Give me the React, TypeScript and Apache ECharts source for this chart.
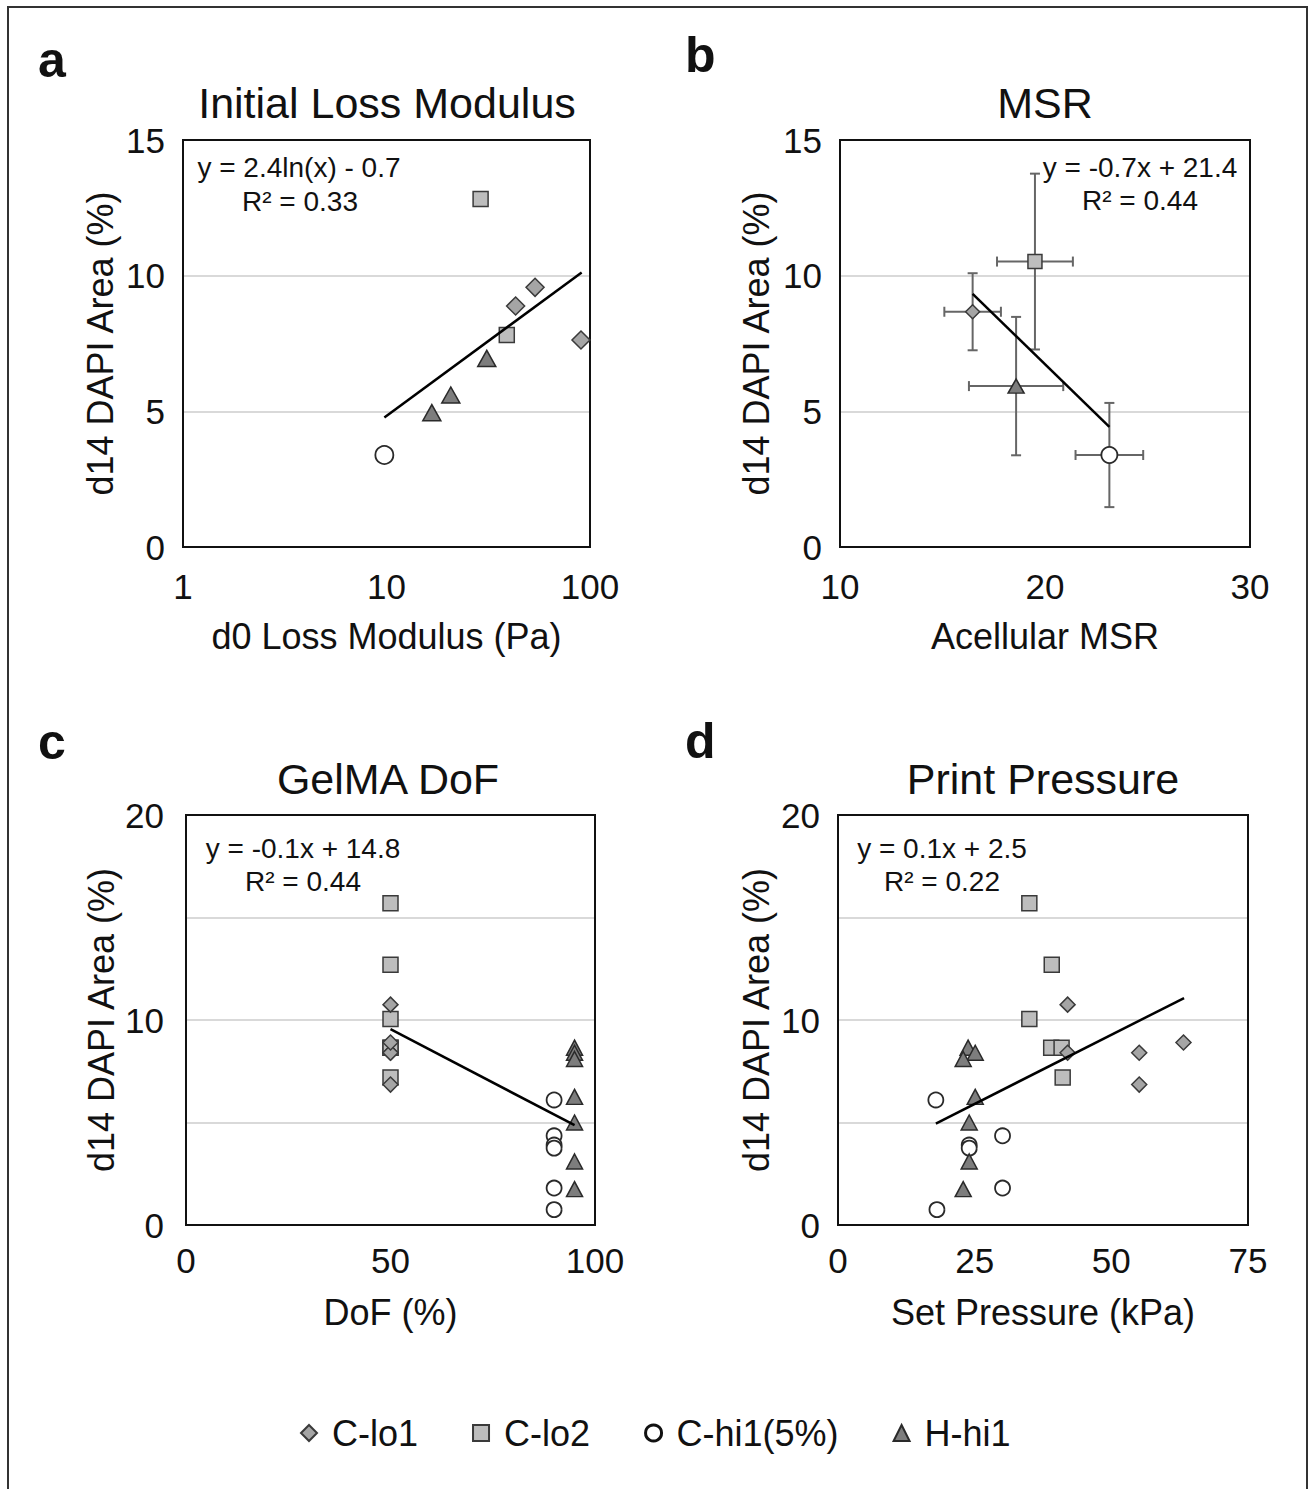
import React, { useEffect, useRef } from "react";
import * as echarts from "echarts";

const FONT = "'Liberation Sans', Arial, Helvetica, sans-serif";

const legendNames = ["C-lo1", "C-lo2", "C-hi1(5%)", "H-hi1"];

// ---------- Panel a: Initial Loss Modulus (log x) ----------
const aLo1Modulus = [53.7, 43.1, 90.3];
const aLo1Area = [9.57, 8.88, 7.63];
const aLo2Modulus = [29.0, 39.0];
const aLo2Area = [12.83, 7.81];
const aHi1Modulus = [9.76];
const aHi1Area = [3.39];
const aHHi1Modulus = [31.1, 20.7, 16.7];
const aHHi1Area = [6.95, 5.6, 4.95];
const aTrendX = [9.76, 91];
const aTrendY = [4.77, 10.12];

// ---------- Panel b: MSR (means with error bars) ----------
const bLo1 = [16.47, 8.67];
const bLo2 = [19.51, 10.52];
const bHi1 = [23.14, 3.39];
const bHHi1 = [18.59, 5.93];
const bMsr = [16.47, 19.51, 23.14, 18.59];
const bArea = [8.67, 10.52, 3.39, 5.93];
const bMsrErr = [1.38, 1.85, 1.65, 2.3];
const bAreaErr = [1.42, 3.24, 1.92, 2.55];
const bTrendX = [16.47, 23.14];
const bTrendY = [9.33, 4.43];

// ---------- Panels c & d: shared d14 DAPI area per sample ----------
const lo1Area = [10.75, 8.4, 8.4, 6.85, 8.9];
const lo2Area = [15.7, 12.7, 10.05, 8.65, 8.65, 7.2];
const hi1Area = [6.1, 4.35, 3.9, 3.75, 1.8, 0.75];
const hHi1Area = [8.65, 8.4, 8.1, 6.25, 5.0, 3.1, 1.75];

// Panel c: GelMA DoF (%)
const lo1Dof = [50, 50, 50, 50, 50];
const lo2Dof = [50, 50, 50, 50, 50, 50];
const hi1Dof = [90, 90, 90, 90, 90, 90];
const hHi1Dof = [95, 95, 95, 95, 95, 95, 95];
const cTrendX = [50, 95];
const cTrendY = [9.55, 4.87];

// Panel d: Set pressure (kPa)
const lo1Pressure = [42.0, 42.0, 55.1, 55.1, 63.2];
const lo2Pressure = [35.0, 39.1, 35.0, 39.0, 40.9, 41.1];
const hi1Pressure = [17.9, 30.1, 24.0, 24.0, 30.1, 18.1];
const hHi1Pressure = [23.8, 25.1, 22.9, 25.1, 24.0, 24.0, 22.9];
const dTrendX = [17.9, 63.3];
const dTrendY = [4.95, 11.07];

type Sty = { symbol: string; color: string; border: string; bw: number };
const STY: Record<string, Sty> = {
  "C-lo1": { symbol: "diamond", color: "#a5a5a5", border: "#3a3a3a", bw: 1.5 },
  "C-lo2": { symbol: "rect", color: "#bdbdbd", border: "#3a3a3a", bw: 1.5 },
  "C-hi1(5%)": { symbol: "circle", color: "#ffffff", border: "#2a2a2a", bw: 1.8 },
  "H-hi1": { symbol: "triangle", color: "#7d7d7d", border: "#2a2a2a", bw: 1.5 },
};

function scatter(name: string, gi: number, xs: number[], ys: number[], size: any) {
  const s = STY[name];
  return {
    type: "scatter",
    name,
    xAxisIndex: gi,
    yAxisIndex: gi,
    symbol: s.symbol,
    symbolSize: size,
    itemStyle: { color: s.color, borderColor: s.border, borderWidth: s.bw, opacity: 1 },
    data: xs.map((x, i) => [x, ys[i]]),
    z: name === "C-lo1" ? 5 : 4,
    silent: true,
  };
}

function trend(gi: number, xs: number[], ys: number[]) {
  return {
    type: "line",
    name: "trend" + gi,
    xAxisIndex: gi,
    yAxisIndex: gi,
    symbol: "none",
    lineStyle: { color: "#000", width: 2.5 },
    data: xs.map((x, i) => [x, ys[i]]),
    z: 6,
    silent: true,
  };
}

const labelStyle = { fontSize: 35, color: "#111", fontFamily: FONT };
const nameStyle = { fontSize: 36, color: "#111", fontFamily: FONT };

function yAxis(gi: number, max: number, margin: number, nameGap: number) {
  return {
    type: "value",
    gridIndex: gi,
    min: 0,
    max,
    interval: 5,
    name: "d14 DAPI Area (%)",
    nameLocation: "middle",
    nameGap,
    nameTextStyle: nameStyle,
    axisLine: { show: false },
    axisTick: { show: false },
    axisLabel: {
      ...labelStyle,
      margin,
      formatter: (v: number) => (max === 20 ? (v % 10 === 0 ? String(v) : "") : String(v)),
    },
    splitLine: {
      show: true,
      showMinLine: false,
      showMaxLine: false,
      lineStyle: { color: "#d9d9d9", width: 2 },
    },
  };
}

function xAxis(gi: number, extra: any, name: string, margin: number, nameGap: number) {
  return {
    gridIndex: gi,
    name,
    nameLocation: "middle",
    nameGap,
    nameTextStyle: nameStyle,
    axisLine: { show: false },
    axisTick: { show: false },
    axisLabel: { ...labelStyle, margin },
    splitLine: { show: false },
    ...extra,
  };
}

function txt(text: string, x: number, y: number, size: number, align = "center", weight = "normal") {
  return {
    type: "text",
    x,
    y,
    silent: true,
    style: {
      text,
      fill: "#111",
      fontSize: size,
      fontFamily: FONT,
      fontWeight: weight,
      align,
      verticalAlign: "middle",
    },
  };
}

const gridBox = { show: true, borderColor: "#111", borderWidth: 2, backgroundColor: "transparent", z: 3 };

export default function App() {
  const ref = useRef<HTMLDivElement>(null);
  useEffect(() => {
    document.body.style.margin = "0";
    if (!ref.current) return;
    const chart = echarts.init(ref.current, undefined, { renderer: "svg" });
    const errData = bMsr.map((v, i) => [v, bArea[i], bMsrErr[i], bAreaErr[i]]);
    const option: any = {
      animation: false,
      backgroundColor: "#fff",
      textStyle: { fontFamily: FONT },
      grid: [
        { left: 183, top: 140, width: 407, height: 407, ...gridBox },
        { left: 840, top: 140, width: 410, height: 407, ...gridBox },
        { left: 186, top: 815, width: 409, height: 410, ...gridBox },
        { left: 838, top: 815, width: 410, height: 410, ...gridBox },
      ],
      xAxis: [
        xAxis(0, { type: "log", logBase: 10, min: 1, max: 100 }, "d0 Loss Modulus (Pa)", 22, 71),
        xAxis(1, { type: "value", min: 10, max: 30, interval: 10 }, "Acellular MSR", 22, 71),
        xAxis(2, { type: "value", min: 0, max: 100, interval: 50 }, "DoF (%)", 18, 69),
        xAxis(3, { type: "value", min: 0, max: 75, interval: 25 }, "Set Pressure (kPa)", 18, 69),
      ],
      yAxis: [yAxis(0, 15, 18, 65), yAxis(1, 15, 18, 66), yAxis(2, 20, 22, 67), yAxis(3, 20, 18, 64)],
      legend: {
        data: [
          { name: "C-lo1" },
          { name: "C-lo2" },
          { name: "C-hi1(5%)", itemStyle: { borderWidth: 3, borderColor: "#111" } },
          { name: "H-hi1" },
        ],
        left: 295,
        top: 1410,
        itemWidth: 16,
        itemHeight: 16,
        itemGap: 54,
        selectedMode: false,
        textStyle: { fontSize: 36, color: "#111", fontFamily: FONT, padding: [0, 0, 0, 10] },
      },
      graphic: [
        {
          type: "rect",
          silent: true,
          shape: { x: 8, y: 7, width: 1299, height: 1500 },
          style: { fill: "none", stroke: "#333", lineWidth: 2 },
        },
        txt("a", 38, 60, 50, "left", "bold"),
        txt("b", 685, 55, 50, "left", "bold"),
        txt("c", 38, 742, 50, "left", "bold"),
        txt("d", 685, 741, 50, "left", "bold"),
        txt("Initial Loss Modulus", 387, 103, 43),
        txt("MSR", 1045, 103, 43),
        txt("GelMA DoF", 388, 779, 43),
        txt("Print Pressure", 1043, 779, 43),
        txt("y = 2.4ln(x) - 0.7", 299, 167, 28),
        txt("R² = 0.33", 300, 201, 28),
        txt("y = -0.7x + 21.4", 1140, 167, 28),
        txt("R² = 0.44", 1140, 200, 28),
        txt("y = -0.1x + 14.8", 303, 848, 28),
        txt("R² = 0.44", 303, 881, 28),
        txt("y = 0.1x + 2.5", 942, 848, 28),
        txt("R² = 0.22", 942, 881, 28),
      ],
      series: [
        // panel a
        scatter("C-lo2", 0, aLo2Modulus, aLo2Area, 15),
        scatter("C-hi1(5%)", 0, aHi1Modulus, aHi1Area, 18),
        scatter("H-hi1", 0, aHHi1Modulus, aHHi1Area, [18, 16]),
        scatter("C-lo1", 0, aLo1Modulus, aLo1Area, [18, 18]),
        trend(0, aTrendX, aTrendY),
        // panel b
        {
          type: "custom",
          name: "error bars",
          xAxisIndex: 1,
          yAxisIndex: 1,
          silent: true,
          z: 2,
          encode: { x: 0, y: 1 },
          data: errData,
          renderItem: (params: any, api: any) => {
            const x = api.value(0);
            const y = api.value(1);
            const ex = api.value(2);
            const ey = api.value(3);
            const l = api.coord([x - ex, y]);
            const r = api.coord([x + ex, y]);
            const t = api.coord([x, y + ey]);
            const b = api.coord([x, y - ey]);
            const cap = 5;
            const st = { stroke: "#666", lineWidth: 2 };
            const ln = (x1: number, y1: number, x2: number, y2: number) => ({
              type: "line",
              shape: { x1, y1, x2, y2 },
              style: st,
            });
            return {
              type: "group",
              children: [
                ln(l[0], l[1], r[0], r[1]),
                ln(t[0], t[1], b[0], b[1]),
                ln(l[0], l[1] - cap, l[0], l[1] + cap),
                ln(r[0], r[1] - cap, r[0], r[1] + cap),
                ln(t[0] - cap, t[1], t[0] + cap, t[1]),
                ln(b[0] - cap, b[1], b[0] + cap, b[1]),
              ],
            };
          },
        },
        scatter("C-lo2", 1, [bLo2[0]], [bLo2[1]], 14),
        scatter("C-hi1(5%)", 1, [bHi1[0]], [bHi1[1]], 16),
        scatter("H-hi1", 1, [bHHi1[0]], [bHHi1[1]], [16, 14]),
        scatter("C-lo1", 1, [bLo1[0]], [bLo1[1]], [14, 14]),
        trend(1, bTrendX, bTrendY),
        // panel c
        scatter("C-lo2", 2, lo2Dof, lo2Area, 15),
        scatter("C-hi1(5%)", 2, hi1Dof, hi1Area, 15),
        scatter("H-hi1", 2, hHi1Dof, hHi1Area, [16, 15]),
        scatter("C-lo1", 2, lo1Dof, lo1Area, [15, 15]),
        trend(2, cTrendX, cTrendY),
        // panel d
        scatter("C-lo2", 3, lo2Pressure, lo2Area, 15),
        scatter("C-hi1(5%)", 3, hi1Pressure, hi1Area, 15),
        scatter("H-hi1", 3, hHi1Pressure, hHi1Area, [16, 15]),
        scatter("C-lo1", 3, lo1Pressure, lo1Area, [15, 15]),
        trend(3, dTrendX, dTrendY),
      ],
    };
    chart.setOption(option);
    return () => chart.dispose();
  }, []);
  return <div ref={ref} style={{ width: 1309, height: 1489 }} />;
}
